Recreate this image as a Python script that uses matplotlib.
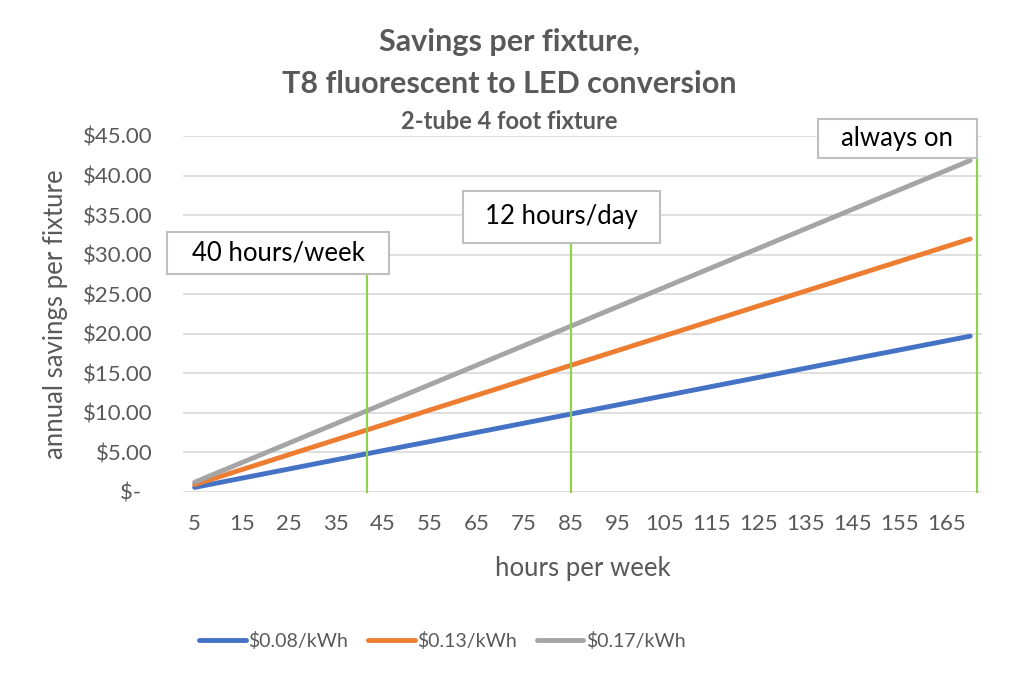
import matplotlib.pyplot as plt
from matplotlib.patches import Rectangle

plt.rcParams['font.family'] = ['Lato', 'DejaVu Sans']

hours = [5, 10, 15, 20, 25, 30, 35, 40, 45, 50, 55, 60, 65, 70, 75, 80, 85,
         90, 95, 100, 105, 110, 115, 120, 125, 130, 135, 140, 145, 150, 155,
         160, 165, 170]

rate_008 = [0.58, 1.16, 1.74, 2.32, 2.90, 3.48, 4.06, 4.64, 5.22, 5.80, 6.37,
            6.95, 7.53, 8.11, 8.69, 9.27, 9.85, 10.43, 11.01, 11.59, 12.17,
            12.75, 13.33, 13.91, 14.49, 15.07, 15.65, 16.23, 16.81, 17.39,
            17.96, 18.54, 19.12, 19.70]
rate_013 = [0.94, 1.88, 2.82, 3.76, 4.71, 5.65, 6.59, 7.53, 8.47, 9.41, 10.35,
            11.29, 12.23, 13.17, 14.12, 15.06, 16.00, 16.94, 17.88, 18.82,
            19.76, 20.70, 21.64, 22.58, 23.53, 24.47, 25.41, 26.35, 27.29,
            28.23, 29.17, 30.11, 31.05, 31.99]
rate_017 = [1.23, 2.47, 3.70, 4.93, 6.16, 7.40, 8.63, 9.86, 11.09, 12.33,
            13.56, 14.79, 16.02, 17.26, 18.49, 19.72, 20.95, 22.19, 23.42,
            24.65, 25.88, 27.12, 28.35, 29.58, 30.81, 32.05, 33.28, 34.51,
            35.74, 36.98, 38.21, 39.44, 40.67, 41.91]

series_labels = ['$0.08/kWh', '$0.13/kWh', '$0.17/kWh']
series_colors = ['#4472c4', '#ed7d31', '#a5a5a5']

# callouts: text, box (x0, x1, y0, y1) in category/value units, marker line x
callouts = [
    ('40 hours/week', (-1.18, 8.27, 27.56, 32.87), 7.33),
    ('12 hours/day', (11.41, 19.80, 31.48, 38.05), 16.0),
    ('always on', (26.52, 33.29, 42.2, 47.16), 33.29),
]

text_gray = '#595959'

fig = plt.figure(figsize=(10.16, 6.8), dpi=100)
ax = fig.add_axes([0.180, 0.2765, 0.7865, 0.5235])

pos = list(range(len(hours)))
for vals, lab, col in zip([rate_008, rate_013, rate_017], series_labels, series_colors):
    ax.plot(pos, vals, color=col, lw=3.5, label=lab, solid_capstyle='round', zorder=3)

ax.set_xlim(-0.5, len(hours) - 0.5)
ax.set_ylim(0, 45)
ax.set_yticks(range(0, 46, 5))
ax.set_yticklabels(['$-  '] + ['$%.2f' % v for v in range(5, 46, 5)])
ax.set_xticks(pos[::2])
ax.set_xticklabels([str(h) for h in hours[::2]])
ax.tick_params(axis='y', length=0, pad=21.5, labelsize=16, labelcolor=text_gray)
ax.tick_params(axis='x', length=0, pad=16, labelsize=16, labelcolor=text_gray)
ax.grid(axis='y', color='#d9d9d9', lw=1.2)
ax.set_axisbelow(True)
for s in ax.spines.values():
    s.set_visible(False)

for txt, (x0, x1, y0, y1), lx in callouts:
    ax.plot([lx, lx], [0, y0], color='#92d050', lw=1.6, zorder=4, clip_on=False)
    ax.add_patch(Rectangle((x0, y0), x1 - x0, y1 - y0, facecolor='white',
                           edgecolor='#bfbfbf', lw=1.5, zorder=5, clip_on=False))
    ax.text((x0 + x1) / 2, (y0 + y1) / 2, txt, ha='center', va='center',
            fontsize=18.5, color='black', zorder=6)

ax.set_xlabel('hours per week', fontsize=18.5, color=text_gray, labelpad=16)
ax.set_ylabel('annual savings per fixture', fontsize=18.5, color=text_gray, labelpad=11)

fig.text(0.5015, 0.938, 'Savings per fixture,', ha='center', va='center',
         fontsize=22, fontweight='bold', color=text_gray)
fig.text(0.5015, 0.877, 'T8 fluorescent to LED conversion', ha='center', va='center',
         fontsize=22, fontweight='bold', color=text_gray)
fig.text(0.5015, 0.822, '2-tube 4 foot fixture', ha='center', va='center',
         fontsize=17, fontweight='bold', color=text_gray)

fig.legend(loc='center', bbox_to_anchor=(0.4355, 0.057), ncol=3, frameon=False,
           fontsize=14, handlelength=2.4, handletextpad=0.15, columnspacing=1.0,
           labelcolor=text_gray)

fig.savefig('out.png', dpi=100)
